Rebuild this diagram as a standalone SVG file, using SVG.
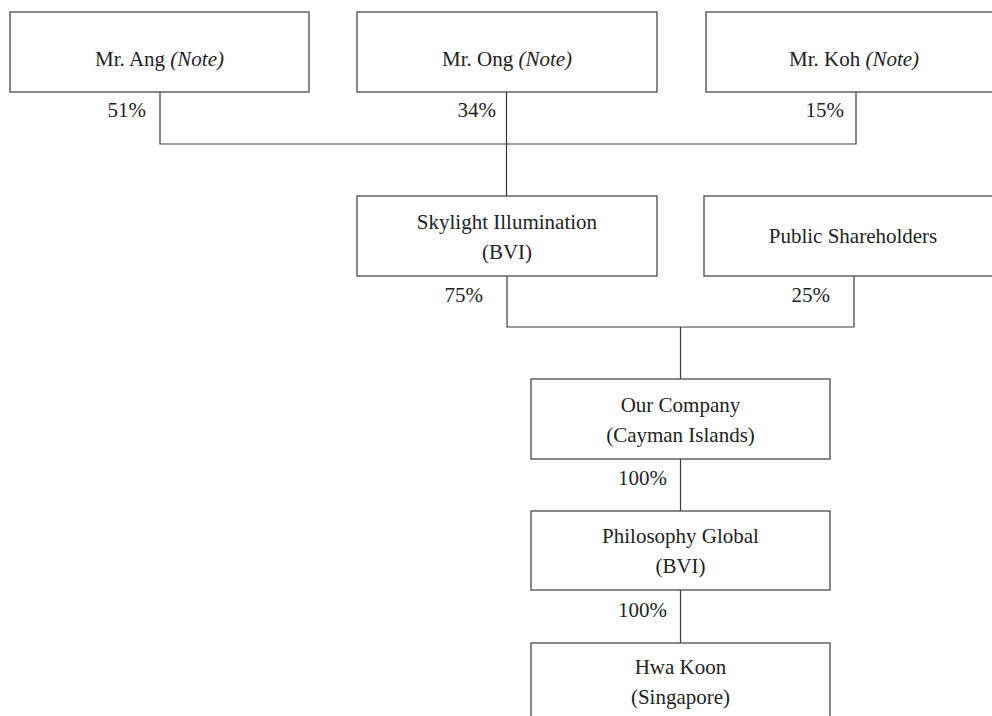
<svg xmlns="http://www.w3.org/2000/svg" width="992" height="716" viewBox="0 0 992 716">
<style>
.box{fill:#fff;stroke:#3a3a3a;stroke-width:1.2}
.t{font-family:"Liberation Serif","Times New Roman",serif;font-size:21px;fill:#222;text-anchor:middle}
.p{font-family:"Liberation Serif","Times New Roman",serif;font-size:21px;fill:#222;text-anchor:end}
.i{font-style:italic}
.c{fill:none;stroke:#3a3a3a;stroke-width:1.2}
</style>
<rect width="992" height="716" fill="#fff"/>
<g id="connectors">
<path class="c" d="M160,92 V144 H856 V92"/>
<path class="c" d="M506.5,92 V196"/>
<path class="c" d="M507,276 V327 H854 V276"/>
<path class="c" d="M680.5,327 V379"/>
<path class="c" d="M680.5,459 V511"/>
<path class="c" d="M680.5,590 V643"/>
<text class="p" x="146" y="117">51%</text>
<text class="p" x="496" y="117">34%</text>
<text class="p" x="844" y="117">15%</text>
<text class="p" x="483" y="302">75%</text>
<text class="p" x="830" y="302">25%</text>
<text class="p" x="667" y="485">100%</text>
<text class="p" x="667" y="617">100%</text>
</g>
<g id="ang">
<rect class="box" x="10" y="12" width="299" height="80"/>
<text class="t" x="159.5" y="66">Mr. Ang <tspan class="i">(Note)</tspan></text>
</g>
<g id="ong">
<rect class="box" x="357" y="12" width="300" height="80"/>
<text class="t" x="507" y="66">Mr. Ong <tspan class="i">(Note)</tspan></text>
</g>
<g id="koh">
<rect class="box" x="706" y="12" width="300" height="80"/>
<text class="t" x="854" y="66">Mr. Koh <tspan class="i">(Note)</tspan></text>
</g>
<g id="skylight">
<rect class="box" x="357" y="196" width="300" height="80"/>
<text class="t" x="507" y="229">Skylight Illumination</text>
<text class="t" x="507" y="259">(BVI)</text>
</g>
<g id="public">
<rect class="box" x="704" y="196" width="300" height="80"/>
<text class="t" x="853" y="243">Public Shareholders</text>
</g>
<g id="ourcompany">
<rect class="box" x="531" y="379" width="299" height="80"/>
<text class="t" x="680.5" y="412">Our Company</text>
<text class="t" x="680.5" y="442">(Cayman Islands)</text>
</g>
<g id="philosophy">
<rect class="box" x="531" y="511" width="299" height="79"/>
<text class="t" x="680.5" y="543">Philosophy Global</text>
<text class="t" x="680.5" y="573">(BVI)</text>
</g>
<g id="hwakoon">
<rect class="box" x="531" y="643" width="299" height="90"/>
<text class="t" x="680.5" y="674">Hwa Koon</text>
<text class="t" x="680.5" y="704">(Singapore)</text>
</g>
</svg>
